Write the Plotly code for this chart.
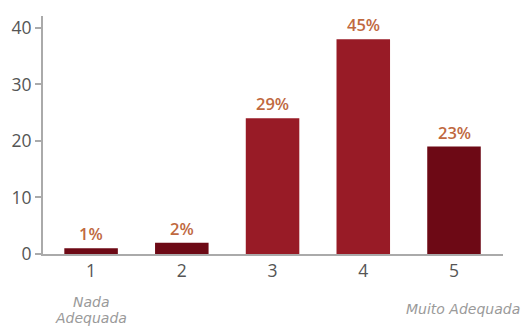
import plotly.graph_objects as go

categories = [1, 2, 3, 4, 5]
values = [1, 2, 24, 38, 19]
bar_colors = ["#6d0915", "#6d0915", "#981b26", "#981b26", "#6d0915"]
tick_vals = [0, 10, 20, 30, 40]

total = sum(values)
pct_labels = [f"{round(v / total * 100)}%" for v in values]

fig = go.Figure()
fig.add_trace(go.Bar(
    x=categories, y=values, marker=dict(color=bar_colors, line=dict(width=0)),
    width=0.59, hoverinfo="skip",
))

for c, v, t in zip(categories, values, pct_labels):
    fig.add_annotation(x=c, y=v, text=t, showarrow=False, yanchor="bottom",
                       yshift=1, font=dict(family="Open Sans", size=16.5, color="#c0693f", weight=600))

note_font = dict(family="DejaVu Sans", size=14, color="#9a9a9a", style="italic")
fig.add_annotation(x=1, y=0, yref="paper", text="Nada", showarrow=False,
                   yanchor="middle", yshift=-48, font=note_font)
fig.add_annotation(x=1, y=0, yref="paper", text="Adequada", showarrow=False,
                   yanchor="middle", yshift=-64, font=note_font)
fig.add_annotation(x=1, xref="paper", xanchor="right", xshift=19, y=0, yref="paper",
                   text="Muito Adequada", showarrow=False, yanchor="middle", yshift=-55,
                   font=note_font)

fig.update_layout(
    width=521, height=327,
    margin=dict(l=43, r=18, t=16, b=73),
    paper_bgcolor="white", plot_bgcolor="white",
    showlegend=False,
    font=dict(family="Open Sans", color="#555555"),
)
fig.update_xaxes(range=[0.47, 5.54], tickvals=categories, ticktext=[str(c) for c in categories],
                 showline=True, linecolor="#aaaaaa", linewidth=2, ticks="", showgrid=False,
                 zeroline=False, tickfont=dict(size=17.5, color="#555555"))
fig.update_yaxes(range=[0, 42.1], tickvals=tick_vals, showline=True, linecolor="#aaaaaa",
                 linewidth=2, ticks="outside", ticklen=6, tickcolor="#aaaaaa", tickwidth=2,
                 showgrid=False, zeroline=False, tickfont=dict(size=17.5, color="#555555"))

fig.write_html("out.html", config={"displayModeBar": False},
               post_script="document.body.style.margin='0';document.body.style.overflow='hidden';")
